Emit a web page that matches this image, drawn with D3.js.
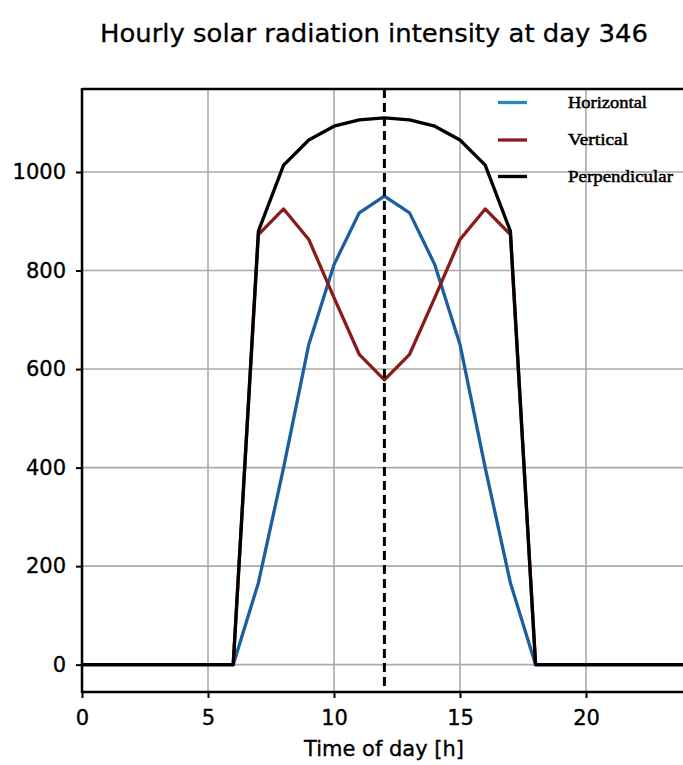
<!DOCTYPE html>
<html>
<head>
<meta charset="utf-8">
<script src="https://cdn.jsdelivr.net/npm/d3@7"></script>
<style>
  html, body { margin: 0; padding: 0; background: #fff; }
  svg { display: block; }
</style>
</head>
<body>
<svg id="chart" width="683" height="765"></svg>
<script>
// ---- data ----
const hours = [0,1,2,3,4,5,6,7,8,9,10,11,12,13,14,15,16,17,18,19,20,21,22,23,24];
const horizontal = [0,0,0,0,0,0,0,166,400,650,812,917,951,917,812,650,400,166,0,0,0,0,0,0,0];
const vertical   = [0,0,0,0,0,0,0,873,925,863,745,630,578,630,745,863,925,873,0,0,0,0,0,0,0];
const perpendicular = [0,0,0,0,0,0,0,880,1014,1065,1093,1106,1110,1106,1093,1065,1014,880,0,0,0,0,0,0,0];
const seriesNames = ["Horizontal", "Vertical", "Perpendicular"];
const xTicks = [0,5,10,15,20];
const yTicks = [0,200,400,600,800,1000];
const noonHour = 12;
const titleText = "Hourly solar radiation intensity at day 346";
const xLabelText = "Time of day [h]";

// ---- layout ----
const svg = d3.select("#chart");
const pL = 82, pT = 89, pB = 692, pR = 82 + 24 * 25.2;
const x = d3.scaleLinear().domain([0, 24]).range([pL, pR]);
const y = d3.scaleLinear().domain([-55.5, 1168.5]).range([pB, pT]);
const colors = ["#1b5f9e", "#8a1b1b", "#000000"];
const font = "'DejaVu Sans', sans-serif";

// grid
const g = svg.append("g");
g.selectAll(".vg").data(xTicks).enter().append("line")
  .attr("x1", d => x(d)).attr("x2", d => x(d))
  .attr("y1", pT).attr("y2", pB)
  .attr("stroke", "#aaaaaa").attr("stroke-width", 1.6);
g.selectAll(".hg").data(yTicks).enter().append("line")
  .attr("x1", pL).attr("x2", 683)
  .attr("y1", d => y(d)).attr("y2", d => y(d))
  .attr("stroke", "#aaaaaa").attr("stroke-width", 1.6);

// series lines
const series = [horizontal, vertical, perpendicular];
const line = d3.line().x((d, i) => x(hours[i])).y(d => y(d));
series.forEach((s, k) => {
  svg.append("path").datum(s)
    .attr("d", line)
    .attr("fill", "none")
    .attr("stroke", colors[k])
    .attr("stroke-width", 3.3)
    .attr("stroke-linejoin", "round");
});

// noon dashed line
svg.append("line")
  .attr("x1", x(noonHour)).attr("x2", x(noonHour))
  .attr("y1", pT).attr("y2", pB)
  .attr("stroke", "#000").attr("stroke-width", 3)
  .attr("stroke-dasharray", "9,5");

// axes
const xAxis = d3.axisBottom(x).tickValues(xTicks).tickSize(6).tickPadding(12).tickFormat(d3.format("d"));
const yAxis = d3.axisLeft(y).tickValues(yTicks).tickSize(6).tickPadding(10).tickFormat(d3.format("d"));
const xa = svg.append("g").attr("transform", `translate(0,${pB})`).call(xAxis);
const ya = svg.append("g").attr("transform", `translate(${pL},0)`).call(yAxis);
[xa, ya].forEach(a => {
  a.select(".domain").remove();
  a.selectAll(".tick line").attr("stroke", "#000").attr("stroke-width", 2);
  a.selectAll(".tick text").attr("font-family", font).attr("font-size", 21).attr("fill", "#000")
    .attr("stroke", "#000").attr("stroke-width", 0.35);
});

// spines
svg.append("line").attr("x1", pL).attr("x2", pL).attr("y1", pT - 1).attr("y2", pB + 1)
  .attr("stroke", "#000").attr("stroke-width", 2.5);
svg.append("line").attr("x1", pL).attr("x2", pR).attr("y1", pT).attr("y2", pT)
  .attr("stroke", "#000").attr("stroke-width", 2.5);
svg.append("line").attr("x1", pL).attr("x2", pR).attr("y1", pB).attr("y2", pB)
  .attr("stroke", "#000").attr("stroke-width", 2.5);
svg.append("line").attr("x1", pR).attr("x2", pR).attr("y1", pT).attr("y2", pB)
  .attr("stroke", "#000").attr("stroke-width", 2.5);

// title & label
svg.append("text").attr("x", 374).attr("y", 42).attr("text-anchor", "middle")
  .attr("font-family", font).attr("font-size", 25).attr("fill", "#000")
  .attr("textLength", 548).attr("lengthAdjust", "spacingAndGlyphs")
  .attr("stroke", "#000").attr("stroke-width", 0.3)
  .text(titleText);
svg.append("text").attr("x", 384).attr("y", 756).attr("text-anchor", "middle")
  .attr("font-family", font).attr("font-size", 21).attr("fill", "#000")
  .attr("stroke", "#000").attr("stroke-width", 0.35)
  .text(xLabelText);

// legend
const legY = [102.5, 140, 176.5];
const legW = [79, 60, 105];
const leg = svg.append("g");
seriesNames.forEach((name, i) => {
  leg.append("line").attr("x1", 498).attr("x2", 527).attr("y1", legY[i]).attr("y2", legY[i])
    .attr("stroke", i === 0 ? "#2a86c0" : colors[i]).attr("stroke-width", 3.3);
  leg.append("text").attr("x", 568).attr("y", legY[i] + 5)
    .attr("font-family", "'Liberation Serif', 'Times New Roman', serif")
    .attr("font-size", 17).attr("fill", "#000")
    .attr("stroke", "#000").attr("stroke-width", 0.5)
    .attr("textLength", legW[i]).attr("lengthAdjust", "spacingAndGlyphs")
    .text(name);
});
</script>
</body>
</html>
